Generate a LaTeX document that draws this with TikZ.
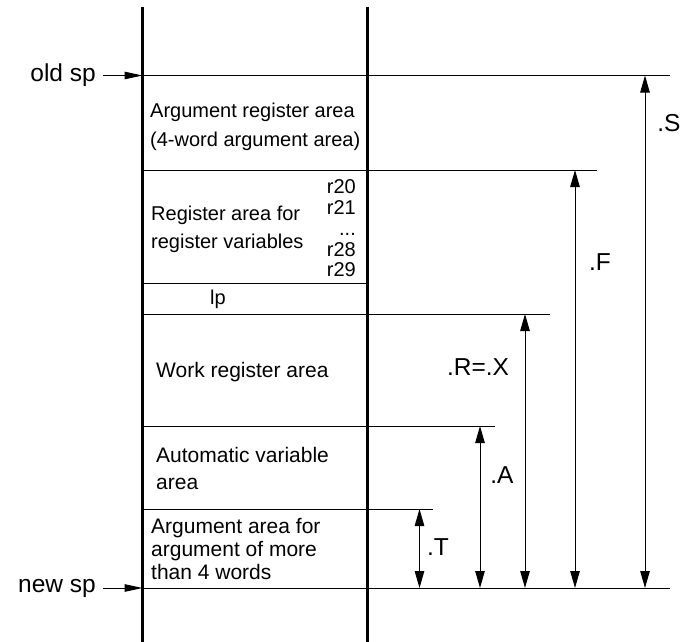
\documentclass[tikz,border=0pt]{standalone}
\usepackage{fontspec}
\setmainfont{Liberation Sans}
\usetikzlibrary{arrows.meta}
\begin{document}
\begin{tikzpicture}[x=1pt,y=-1pt,
  wall/.style={line width=3pt},
  level/.style={line width=1pt},
  measure/.style={line width=1pt,{Triangle[length=17pt,width=9.5pt]}-{Triangle[length=17pt,width=9.5pt]}},
  pointer/.style={line width=1pt,-{Triangle[length=18pt,width=7.5pt]}},
  areatext/.style={font=\fontsize{20}{29}\selectfont,align=left,inner sep=0pt,anchor=west},
  lowtext/.style={font=\fontsize{21}{27}\selectfont,align=left,inner sep=0pt,anchor=west},
  dimtext/.style={font=\fontsize{24.5}{28}\selectfont,inner sep=0pt},
  regtext/.style={font=\fontsize{20}{20.8}\selectfont,align=right,inner sep=0pt,anchor=east}
]
\useasboundingbox (0,0) rectangle (685,642);

% stack frame walls
\coordinate (wlt) at (142.5,7);
\coordinate (wlb) at (142.5,642);
\coordinate (wrt) at (367.5,7);
\coordinate (wrb) at (367.5,642);
\draw[wall] (wlt) -- (wlb);
\draw[wall] (wrt) -- (wrb);

% boundaries between areas
\coordinate (l0a) at (142.5,75.5);  \coordinate (l0b) at (670,75.5);
\coordinate (l1a) at (142.5,170);   \coordinate (l1b) at (597,170);
\coordinate (l2a) at (142.5,283.5); \coordinate (l2b) at (367.5,283.5);
\coordinate (l3a) at (142.5,314);   \coordinate (l3b) at (550,314);
\coordinate (l4a) at (142.5,426);   \coordinate (l4b) at (495,426);
\coordinate (l5a) at (142.5,509);   \coordinate (l5b) at (433,509);
\coordinate (l6a) at (142.5,588);   \coordinate (l6b) at (670,588);
\foreach \i in {0,...,6} \draw[level] (l\i a) -- (l\i b);

% stack pointers
\node[dimtext,anchor=east] (oldsp) at (96,75) {old sp};
\node[dimtext,anchor=east] (newsp) at (96,588) {new sp};
\coordinate (op) at (103,75.5);
\coordinate (np) at (103,588);
\draw[pointer] (op) -- (l0a);
\draw[pointer] (np) -- (l6a);

% area contents
\node[areatext] (argreg) at (150,127) {Argument register area\\(4-word argument area)};
\node[areatext,font=\fontsize{20}{28}\selectfont] (regvar) at (151,229) {Register area for\\ register variables};
\node[regtext] (rlist) at (356,228.5) {r20\\r21\\...\\r28\\r29};
\node[areatext] (lp) at (210,299) {lp};
\node[lowtext] (work) at (156,372) {Work register area};
\node[lowtext] (auto) at (156,468.5) {Automatic variable\\area};
\node[lowtext,font=\fontsize{21}{23}\selectfont] (argmem) at (151,549) {Argument area for\\argument of more\\than 4 words};

% size measures
\coordinate (sT) at (419.5,509); \coordinate (eT) at (419.5,588);
\coordinate (sA) at (480,426);   \coordinate (eA) at (480,588);
\coordinate (sR) at (525,314);   \coordinate (eR) at (525,588);
\coordinate (sF) at (575,170);   \coordinate (eF) at (575,588);
\coordinate (sS) at (645,75.5);  \coordinate (eS) at (645,588);
\draw[measure] (sT) -- (eT);
\draw[measure] (sA) -- (eA);
\draw[measure] (sR) -- (eR);
\draw[measure] (sF) -- (eF);
\draw[measure] (sS) -- (eS);

\node[dimtext] (labS) at (669,123) {.S};
\node[dimtext] (labF) at (600,262) {.F};
\node[dimtext] (labR) at (478,367) {.R=.X};
\node[dimtext] (labA) at (502,475) {.A};
\node[dimtext] (labT) at (438,547) {.T};
\end{tikzpicture}
\end{document}
